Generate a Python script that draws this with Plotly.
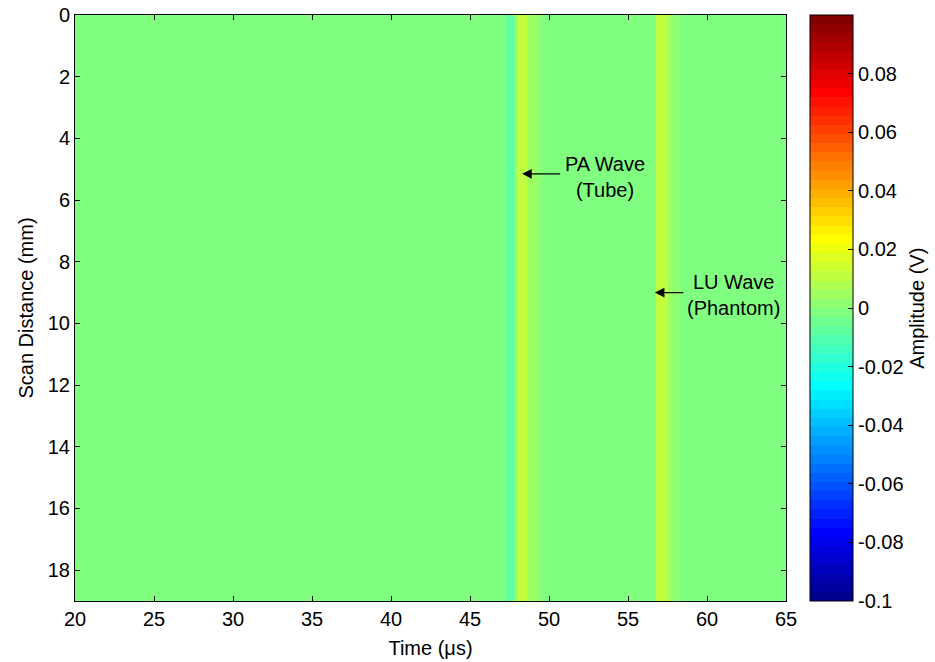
import plotly.graph_objects as go

# ---- data ----
time_edges = [20, 46.9, 47.2, 47.85, 48.0, 48.7, 49.1, 49.5, 56.5, 56.8, 57.5, 57.8, 58.3, 65]
amplitude = [-0.0005, -0.002, -0.008, 0.004, 0.012, 0.006, 0.002, -0.0005, -0.003, 0.011, 0.005, 0.001, -0.0005]
scan_edges = [0, 19]
x_ticks = [20, 25, 30, 35, 40, 45, 50, 55, 60, 65]
y_ticks = [0, 2, 4, 6, 8, 10, 12, 14, 16, 18]
cb_ticks = [-0.1, -0.08, -0.06, -0.04, -0.02, 0, 0.02, 0.04, 0.06, 0.08]
cb_labels = ["-0.1", "-0.08", "-0.06", "-0.04", "-0.02", "0", "0.02", "0.04", "0.06", "0.08"]

# ---- MATLAB jet(64) colormap, discrete ----
m = 64
n = 16
u = [(i + 1) / n for i in range(n)] + [1.0] * (n - 1) + [(n - i) / n for i in range(n)]
g_idx = [8 + k for k in range(1, len(u) + 1)]
r_idx = [gi + n for gi in g_idx]
b_idx = [gi - n for gi in g_idx]
R = [0.0] * m; G = [0.0] * m; B = [0.0] * m
for k, val in enumerate(u):
    if 1 <= r_idx[k] <= m: R[r_idx[k] - 1] = val
    if 1 <= g_idx[k] <= m: G[g_idx[k] - 1] = val
    if 1 <= b_idx[k] <= m: B[b_idx[k] - 1] = val
colorscale = []
for i in range(m):
    c = "rgb(%d,%d,%d)" % (round(R[i] * 255), round(G[i] * 255), round(B[i] * 255))
    colorscale.append([i / m, c])
    colorscale.append([(i + 1) / m, c])

font = dict(family="Liberation Sans, Arial, sans-serif", size=20, color="black")

fig = go.Figure(go.Heatmap(
    x=time_edges, y=scan_edges, z=[amplitude],
    zmin=-0.1, zmax=0.1, colorscale=colorscale,
    colorbar=dict(
        x=1.0338, xanchor="left", xref="paper", y=0.5, yanchor="middle", len=1,
        xpad=0, ypad=0,
        thickness=43, thicknessmode="pixels", outlinewidth=1, outlinecolor="black",
        tickvals=cb_ticks, ticktext=cb_labels, ticks="inside", ticklen=5,
        tickcolor="black", tickfont=font, ticklabeloverflow="allow",
    ),
))

axis_common = dict(showline=True, linecolor="black", linewidth=1, mirror="ticks",
                   ticks="inside", ticklen=5, tickcolor="black", showgrid=False,
                   zeroline=False, tickfont=font, automargin=False,
                   ticklabeloverflow="allow")
fig.update_xaxes(range=[20, 65], tickvals=x_ticks,
                 title=dict(text="Time (μs)", font=font, standoff=11), **axis_common)
fig.update_yaxes(range=[19, 0], tickvals=y_ticks,
                 title=dict(text="Scan Distance (mm)", font=font, standoff=8), **axis_common)

ann = []
ann.append(dict(x=48.3, y=5.15, ax=50.8, ay=5.15, axref="x", ayref="y", xref="x", yref="y",
                text="", showarrow=True, arrowhead=2, arrowsize=1.6, arrowwidth=1.2, arrowcolor="black"))
ann.append(dict(x=56.7, y=9.0, ax=58.6, ay=9.0, axref="x", ayref="y", xref="x", yref="y",
                text="", showarrow=True, arrowhead=2, arrowsize=1.6, arrowwidth=1.2, arrowcolor="black"))
ann.append(dict(x=53.55, y=5.25, xref="x", yref="y", text="PA Wave<br>(Tube)", showarrow=False,
                font=font, align="center"))
ann.append(dict(x=61.65, y=9.09, xref="x", yref="y", text="LU Wave<br>(Phantom)", showarrow=False,
                font=font, align="center"))
ann.append(dict(x=1.184, y=0.5, xref="paper", yref="paper", text="Amplitude (V)", textangle=-90,
                showarrow=False, font=font, xanchor="center", yanchor="middle"))

fig.update_layout(
    width=935, height=662,
    margin=dict(l=75, r=149, t=15, b=61, autoexpand=False),
    paper_bgcolor="white", plot_bgcolor="white",
    font=font, annotations=ann,
)

fig.write_html("out.html", config={"displayModeBar": False},
               post_script="document.body.style.margin='0';")
